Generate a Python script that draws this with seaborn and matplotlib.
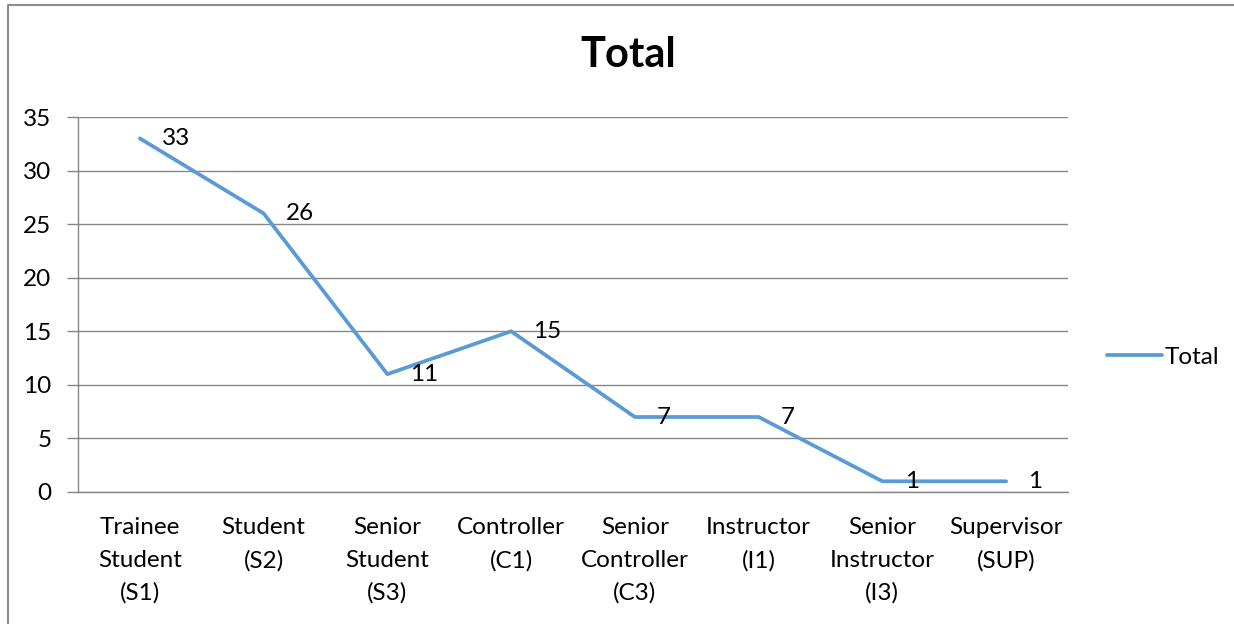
import matplotlib
matplotlib.use("Agg")
import matplotlib.pyplot as plt
from matplotlib.lines import Line2D
import seaborn as sns
import pandas as pd

# dados do grafico
categorias = ["Trainee\nStudent\n(S1)", "Student\n(S2)", "Senior\nStudent\n(S3)",
              "Controller\n(C1)", "Senior\nController\n(C3)", "Instructor\n(I1)",
              "Senior\nInstructor\n(I3)", "Supervisor\n(SUP)"]
total = [33, 26, 11, 15, 7, 7, 1, 1]
yticks = [0, 5, 10, 15, 20, 25, 30, 35]

df = pd.DataFrame({"cat": categorias, "Total": total})

sns.set_style("white")
plt.rcParams["font.family"] = ["Lato", "DejaVu Sans"]
plt.rcParams["text.color"] = "black"
plt.rcParams["xtick.labelcolor"] = "black"
plt.rcParams["ytick.labelcolor"] = "black"

azul = "#5B9BD5"
cinza = "#868686"
fs = 17.5

fig = plt.figure(figsize=(12.34, 6.24), dpi=100)
ax = fig.add_axes([78 / 1234, 1 - 492 / 624, 990 / 1234, 375 / 624])

sns.lineplot(data=df, x="cat", y="Total", ax=ax, color=azul, linewidth=2.7,
             label="Total", sort=False)

# rotulos dos pontos
for i, v in enumerate(total):
    ax.annotate(str(v), (i, v), xytext=(16, 0), textcoords="offset points",
                ha="left", va="center", fontsize=fs, color="black")

ax.set_xlim(-0.5, len(categorias) - 0.5)
ax.set_ylim(0, 35)
ax.set_yticks(yticks)
ax.set_xticks(range(len(categorias)))
ax.set_xticklabels(categorias, linespacing=1.68)
ax.set_xticks([i - 0.5 for i in range(len(categorias) + 1)], minor=True)
ax.tick_params(axis="x", which="major", length=0, pad=18, labelsize=fs)
ax.tick_params(axis="x", which="minor", length=8, width=1, color=cinza, direction="out")
ax.tick_params(axis="y", length=8, width=1, color=cinza, direction="out", pad=11,
               labelsize=fs, left=True)
ax.yaxis.grid(True, color=cinza, linewidth=1)
ax.set_axisbelow(True)
ax.set_xlabel("")
ax.set_ylabel("")

for s in ["top", "right"]:
    ax.spines[s].set_visible(False)
for s in ["left", "bottom"]:
    ax.spines[s].set_color(cinza)
    ax.spines[s].set_linewidth(1)

ax.legend(loc="center left", bbox_to_anchor=(1107 / 1234, 1 - 357 / 624),
          bbox_transform=fig.transFigure, frameon=False, fontsize=fs,
          handlelength=2.25, handletextpad=0.12, borderpad=0, borderaxespad=0)

fig.text(628 / 1234, 1 - 55 / 624, "Total", ha="center", va="center",
         fontsize=30, fontweight="bold", color="black")

# moldura do grafico
fig.add_artist(Line2D([8 / 1234, 8 / 1234, 1.0], [0, 1 - 4.5 / 624, 1 - 4.5 / 624],
                      transform=fig.transFigure, color="#8c8c8c", linewidth=1.5))

fig.savefig("out.png", dpi=100)
